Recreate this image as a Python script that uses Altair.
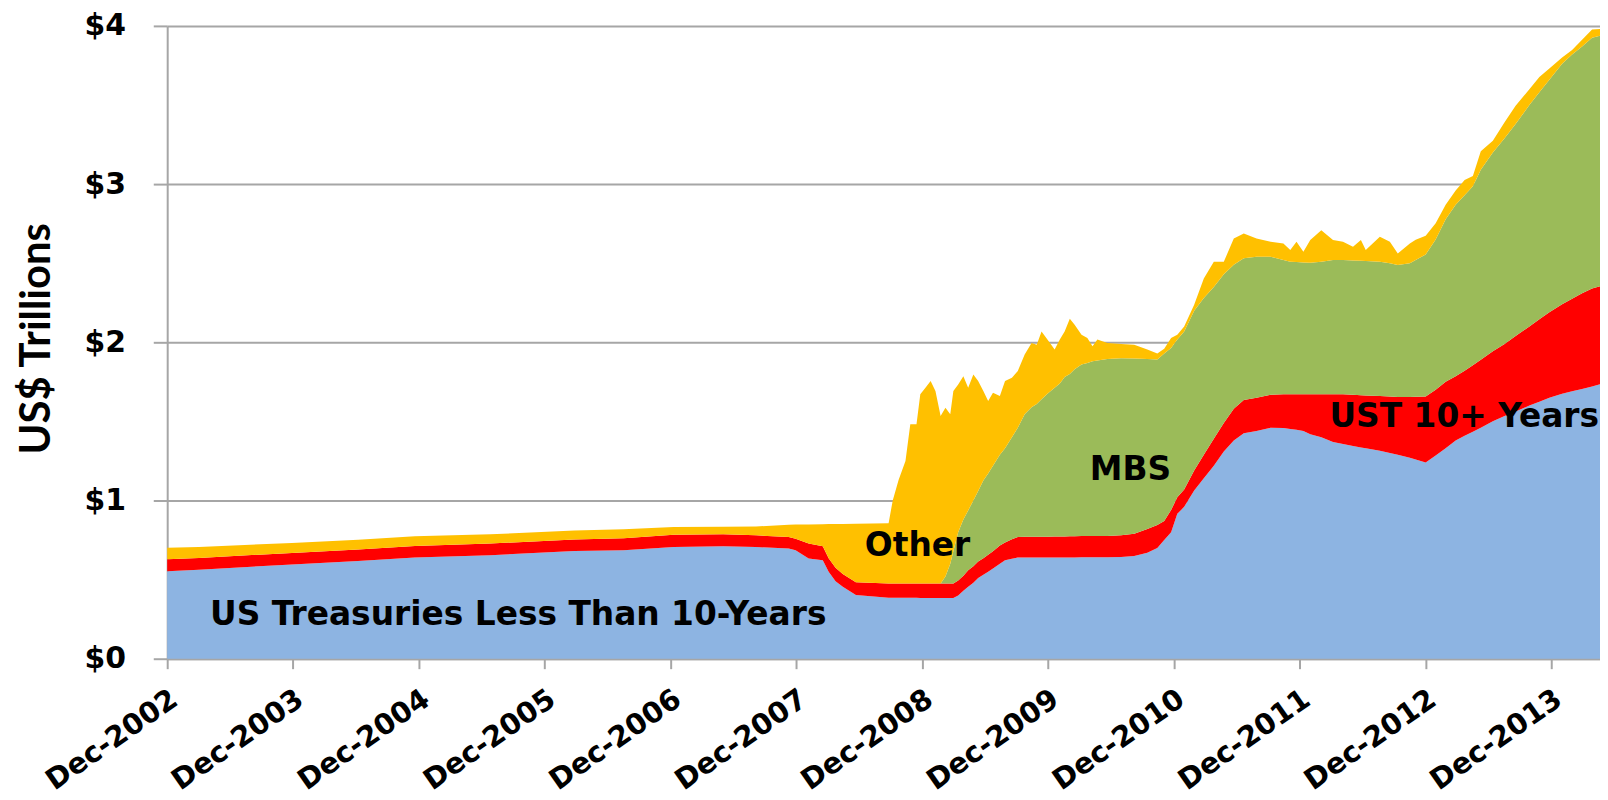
import altair as alt
import pandas as pd

# ---- data (US$ trillions) ----
dates = [
    "2002-12-18", "2003-03-20", "2003-12-15", "2004-06-24", "2004-12-06", "2005-07-13",
    "2006-03-14", "2006-08-04", "2006-12-27", "2007-05-20", "2007-08-23", "2007-11-26",
    "2007-12-16", "2008-01-23", "2008-03-04", "2008-03-21", "2008-04-10", "2008-05-01",
    "2008-06-08", "2008-09-11", "2008-09-23", "2008-10-10", "2008-10-30", "2008-11-13",
    "2008-12-01", "2008-12-12", "2008-12-27", "2009-01-11", "2009-01-25", "2009-02-09",
    "2009-02-23", "2009-03-09", "2009-03-18", "2009-04-01", "2009-04-16", "2009-04-30",
    "2009-05-15", "2009-05-29", "2009-06-13", "2009-06-27", "2009-07-11", "2009-07-31",
    "2009-08-15", "2009-09-04", "2009-09-21", "2009-10-11", "2009-10-31", "2009-11-15",
    "2009-11-29", "2009-12-16", "2010-01-06", "2010-01-21", "2010-02-04", "2010-02-19",
    "2010-03-05", "2010-03-25", "2010-04-11", "2010-04-26", "2010-05-10", "2010-06-08",
    "2010-07-18", "2010-08-25", "2010-10-02", "2010-10-31", "2010-11-20", "2010-12-10",
    "2010-12-28", "2011-01-17", "2011-02-15", "2011-03-15", "2011-04-13", "2011-05-12",
    "2011-06-10", "2011-07-09", "2011-08-15", "2011-09-25", "2011-11-01", "2011-11-21",
    "2011-12-09", "2011-12-29", "2012-01-18", "2012-02-19", "2012-03-24", "2012-04-22",
    "2012-05-21", "2012-06-13", "2012-06-27", "2012-08-07", "2012-09-05", "2012-09-28",
    "2012-11-02", "2012-11-19", "2012-12-18", "2013-01-16", "2013-02-14", "2013-03-15",
    "2013-04-10", "2013-05-04", "2013-05-27", "2013-07-01", "2013-08-04", "2013-09-05",
    "2013-10-15", "2013-11-13", "2013-12-12", "2014-01-18", "2014-02-16", "2014-03-17",
    "2014-04-15", "2014-05-08",
]

ust_short = [
    0.553, 0.562, 0.596, 0.617, 0.640, 0.654, 0.681, 0.686, 0.706, 0.711, 0.706, 0.696,
    0.686, 0.633, 0.623, 0.550, 0.490, 0.455, 0.403, 0.386, 0.386, 0.386, 0.386, 0.385,
    0.385, 0.384, 0.384, 0.384, 0.384, 0.384, 0.384, 0.384, 0.384, 0.400, 0.430, 0.455,
    0.480, 0.510, 0.530, 0.550, 0.570, 0.600, 0.623, 0.632, 0.640, 0.640, 0.640, 0.640,
    0.640, 0.640, 0.640, 0.640, 0.640, 0.640, 0.640, 0.641, 0.641, 0.641, 0.641, 0.642,
    0.643, 0.650, 0.670, 0.700, 0.750, 0.800, 0.916, 0.960, 1.063, 1.140, 1.220, 1.310,
    1.380, 1.425, 1.440, 1.460, 1.458, 1.452, 1.448, 1.440, 1.419, 1.400, 1.370, 1.357,
    1.345, 1.335, 1.330, 1.315, 1.300, 1.290, 1.270, 1.260, 1.240, 1.285, 1.330, 1.380,
    1.410, 1.435, 1.460, 1.501, 1.535, 1.562, 1.600, 1.625, 1.650, 1.675, 1.690, 1.705,
    1.720, 1.735,
]

ust_long = [
    0.076, 0.075, 0.073, 0.073, 0.073, 0.074, 0.072, 0.076, 0.078, 0.075, 0.074, 0.073,
    0.073, 0.095, 0.088, 0.085, 0.085, 0.080, 0.080, 0.090, 0.090, 0.090, 0.090, 0.091,
    0.091, 0.092, 0.092, 0.092, 0.092, 0.092, 0.092, 0.092, 0.092, 0.095, 0.095, 0.105,
    0.105, 0.105, 0.105, 0.107, 0.110, 0.115, 0.112, 0.123, 0.129, 0.131, 0.131, 0.131,
    0.131, 0.131, 0.132, 0.132, 0.133, 0.134, 0.134, 0.134, 0.134, 0.134, 0.134, 0.133,
    0.137, 0.140, 0.150, 0.145, 0.120, 0.140, 0.104, 0.110, 0.126, 0.150, 0.170, 0.180,
    0.200, 0.210, 0.210, 0.208, 0.213, 0.219, 0.223, 0.231, 0.252, 0.271, 0.301, 0.314,
    0.323, 0.330, 0.334, 0.346, 0.358, 0.365, 0.385, 0.396, 0.417, 0.415, 0.420, 0.405,
    0.410, 0.420, 0.430, 0.442, 0.455, 0.478, 0.500, 0.520, 0.540, 0.565, 0.585, 0.605,
    0.620, 0.620,
]

mbs = [
    0.0, 0.0, 0.0, 0.0, 0.0, 0.0, 0.0, 0.0, 0.0, 0.0, 0.0, 0.0,
    0.0, 0.0, 0.0, 0.0, 0.0, 0.0, 0.0, 0.0, 0.0, 0.0, 0.0, 0.0,
    0.0, 0.0, 0.0, 0.0, 0.0, 0.0, 0.044, 0.124, 0.204, 0.305, 0.355, 0.377,
    0.415, 0.445, 0.491, 0.513, 0.540, 0.575, 0.595, 0.645, 0.691, 0.774, 0.819, 0.839,
    0.869, 0.904, 0.941, 0.968, 1.007, 1.026, 1.056, 1.085, 1.095, 1.105, 1.110, 1.120,
    1.120, 1.107, 1.075, 1.046, 1.060, 1.024, 0.997, 0.999, 1.011, 0.990, 0.960, 0.940,
    0.910, 0.897, 0.891, 0.873, 0.849, 0.839, 0.837, 0.834, 0.832, 0.839, 0.849, 0.849,
    0.849, 0.850, 0.850, 0.848, 0.842, 0.833, 0.844, 0.864, 0.898, 0.950, 1.028, 1.085,
    1.110, 1.132, 1.200, 1.257, 1.300, 1.340, 1.400, 1.435, 1.470, 1.520, 1.545, 1.560,
    1.585, 1.583,
]

other = [
    0.073, 0.069, 0.063, 0.062, 0.061, 0.058, 0.058, 0.056, 0.048, 0.048, 0.056, 0.078,
    0.089, 0.120, 0.139, 0.216, 0.277, 0.317, 0.370, 0.381, 0.524, 0.654, 0.774, 1.006,
    1.006, 1.195, 1.237, 1.279, 1.216, 1.059, 1.067, 0.945, 1.012, 0.934, 0.906, 0.776,
    0.797, 0.695, 0.566, 0.459, 0.461, 0.370, 0.425, 0.376, 0.358, 0.378, 0.406, 0.375,
    0.429, 0.342, 0.241, 0.277, 0.289, 0.349, 0.281, 0.188, 0.157, 0.095, 0.132, 0.101,
    0.090, 0.088, 0.059, 0.039, 0.030, 0.063, 0.031, 0.031, 0.037, 0.124, 0.159, 0.079,
    0.166, 0.156, 0.115, 0.094, 0.105, 0.073, 0.127, 0.067, 0.143, 0.199, 0.126, 0.115,
    0.087, 0.131, 0.069, 0.158, 0.135, 0.074, 0.126, 0.128, 0.118, 0.102, 0.091, 0.090,
    0.096, 0.065, 0.118, 0.074, 0.101, 0.115, 0.099, 0.097, 0.070, 0.040, 0.027, 0.042,
    0.052, 0.042,
]

series_names = ["US Treasuries Less Than 10-Years", "UST 10+ Years", "MBS", "Other"]
series_colors = ["#8DB4E2", "#FF0000", "#9BBB59", "#FFC000"]

tick_years = list(range(2002, 2014))

label_texts = ["US Treasuries Less Than 10-Years", "Other", "MBS", "UST 10+ Years"]
label_dates = ["2005-10-02", "2008-12-04", "2010-08-14", "2013-04-09"]
label_values = [0.275, 0.715, 1.19, 1.527]

# ---- build long table ----
rows = []
for i, d in enumerate(dates):
    for k, vals in enumerate([ust_short, ust_long, mbs, other]):
        rows.append({"date": d, "series": series_names[k], "value": vals[i], "order": k})
df = pd.DataFrame(rows)

labels_df = pd.DataFrame({"date": label_dates, "value": label_values, "text": label_texts})

GRAY = "#A6A6A6"
FONT = "DejaVu Sans"

x_dom = [alt.DateTime(year=2002, month=12, date=18, utc=True),
         alt.DateTime(year=2014, month=5, date=8, utc=True)]
x_vals = [alt.DateTime(year=y, month=12, date=18, utc=True) for y in tick_years]

x_enc = alt.X(
    "date:T",
    scale=alt.Scale(type="utc", domain=x_dom, nice=False),
    axis=alt.Axis(
        values=x_vals, format="%b-%Y", formatType="time",
        labelAngle=325, labelAlign="right", labelBaseline="middle",
        labelFont=FONT, labelFontWeight="bold", labelFontSize=29, labelColor="black",
        labelPadding=27, labelOffset=7, labelOverlap=False, labelFlush=False, labelBound=False,
        tickSize=10, tickColor=GRAY, tickWidth=2,
        domainColor=GRAY, domainWidth=2, grid=False, title=None,
    ),
)

y_enc = alt.Y(
    "value:Q",
    stack="zero",
    scale=alt.Scale(domain=[0, 4], nice=False),
    axis=alt.Axis(
        values=[0, 1, 2, 3, 4], labelExpr="'$' + datum.value",
        labelFont=FONT, labelFontWeight="bold", labelFontSize=30, labelColor="black",
        labelPadding=28, tickSize=14, tickColor=GRAY, tickWidth=2,
        domainColor=GRAY, domainWidth=2,
        grid=True, gridColor=GRAY, gridWidth=2,
        title="US$ Trillions", titleFont="Lato", titleFontSize=42, titleFontWeight="bold",
        titleColor="black", titleAngle=270, titleX=-131, titleY=314,
        titleAlign="center", titleBaseline="middle",
    ),
)

areas = alt.Chart(df).mark_area(interpolate="linear").encode(
    x=x_enc,
    y=y_enc,
    color=alt.Color("series:N", scale=alt.Scale(domain=series_names, range=series_colors), legend=None),
    order=alt.Order("order:Q", sort="ascending"),
)

texts = alt.Chart(labels_df).mark_text(
    font=FONT, fontWeight="bold", fontSize=33, color="black", align="center", baseline="middle"
).encode(
    x=alt.X("date:T"),
    y=alt.Y("value:Q"),
    text="text:N",
)

chart = alt.layer(areas, texts).properties(
    width=1440, height=636,
    autosize=alt.AutoSizeParams(type="none"),
    padding={"left": 160, "top": 16, "right": 0, "bottom": 140},
    background="white",
).configure_view(stroke=None)

chart.save("out.html", embed_options={"renderer": "svg", "actions": False})
